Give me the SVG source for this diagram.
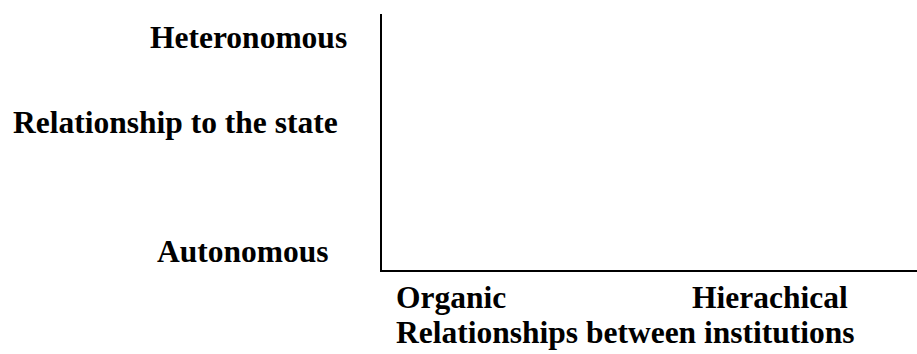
<svg xmlns="http://www.w3.org/2000/svg" width="917" height="354" viewBox="0 0 917 354">
<style>
text{font-family:"Liberation Serif","Times New Roman",serif;font-weight:bold;font-size:31.5px;fill:#000}
.ax{stroke:#000;stroke-width:2;fill:none}
</style>
<rect width="917" height="354" fill="#fff"/>
<g id="connectors">
<path class="ax" d="M381,14 V271 H917"/>
</g>
<g id="label-heteronomous"><text x="150" y="48">Heteronomous</text></g>
<g id="label-relationship-state"><text x="13" y="133">Relationship to the state</text></g>
<g id="label-autonomous"><text x="157" y="262">Autonomous</text></g>
<g id="label-organic"><text x="396" y="308">Organic</text></g>
<g id="label-hierachical"><text x="692" y="308">Hierachical</text></g>
<g id="label-relationships-institutions"><text x="396" y="343">Relationships between institutions</text></g>
</svg>
